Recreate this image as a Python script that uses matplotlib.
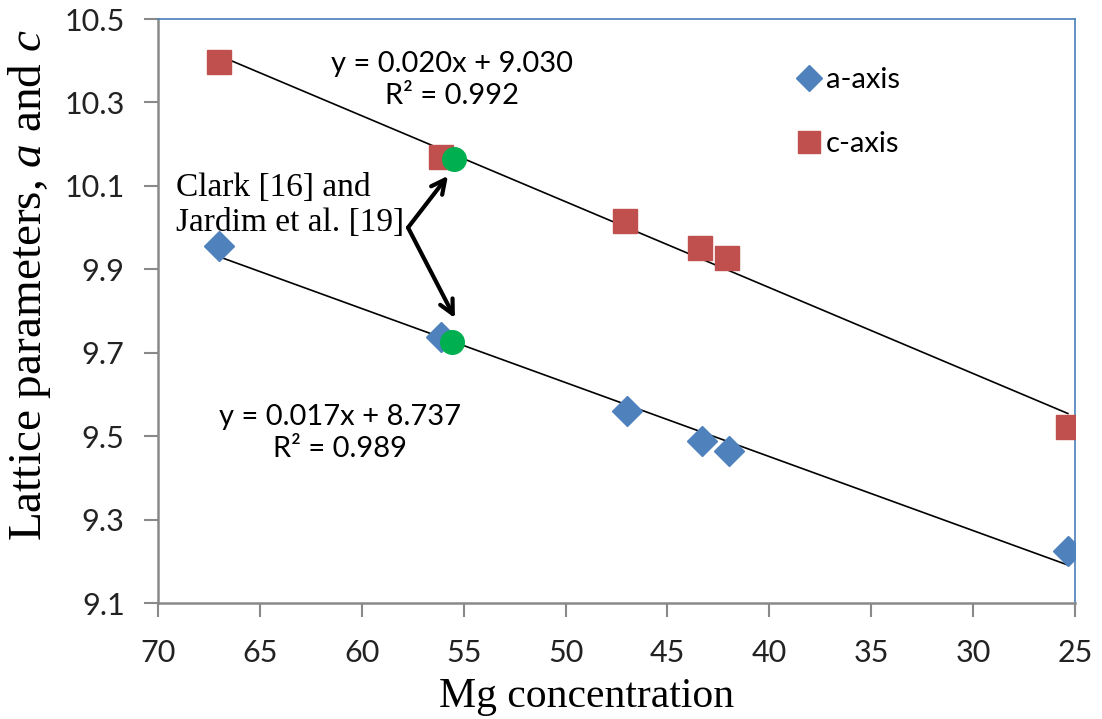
import numpy as np
import matplotlib
matplotlib.use("Agg")
import matplotlib.pyplot as plt

plt.rcParams["mathtext.fontset"] = "custom"
plt.rcParams["mathtext.it"] = "Liberation Serif:italic"
plt.rcParams["mathtext.rm"] = "Liberation Serif"

mg_a = [67.0, 56.1, 47.0, 43.3, 42.0, 25.35]
a_axis = [9.956, 9.737, 9.560, 9.488, 9.464, 9.224]

mg_c = [67.0, 56.1, 47.1, 43.4, 42.1, 25.35]
c_axis = [10.397, 10.169, 10.016, 9.951, 9.927, 9.522]

# Literaturwerte Clark / Jardim
mg_lit = [55.45, 55.55]
lit_vals = [10.164, 9.725]

eq_c = "y = 0.020x + 9.030\nR² = 0.992"
eq_a = "y = 0.017x + 8.737\nR² = 0.989"
lit_text = "Clark [16] and\nJardim et al. [19]"

xticks = [70, 65, 60, 55, 50, 45, 40, 35, 30, 25]
yticks = [9.1, 9.3, 9.5, 9.7, 9.9, 10.1, 10.3, 10.5]

tick_font = "Lato"
serif = "Liberation Serif"
grey = "#898989"
blue_frame = "#4A7EBB"

fig = plt.figure(figsize=(11.02, 7.19), dpi=100)
ax = fig.add_axes([158/1102, 1 - 603/719, (1075-158)/1102, (603-19)/719])

# Trendlinien
for xs, ys in [(mg_a, a_axis), (mg_c, c_axis)]:
    k, d = np.polyfit(xs, ys, 1)
    xx = np.array([max(xs), min(xs)])
    ax.plot(xx, k*xx + d, color="black", lw=1.2, zorder=2)

ax.plot(mg_a, a_axis, linestyle="none", marker="D", markersize=15,
        color="#4F81BD", label="a-axis", zorder=3)
ax.plot(mg_c, c_axis, linestyle="none", marker="s", markersize=17,
        color="#C0504D", label="c-axis", zorder=3)
ax.plot(mg_lit, lit_vals, linestyle="none", marker="o", markersize=17,
        color="#00B050", zorder=4)

ax.set_xlim(70, 25)
ax.set_ylim(9.1, 10.5)
ax.set_xticks(xticks)
ax.set_xticklabels([str(t) for t in xticks])
ax.set_yticks(yticks)
ax.set_yticklabels([f"{t:.1f}" for t in yticks])

for lab in ax.get_xticklabels() + ax.get_yticklabels():
    lab.set_fontfamily(tick_font)
    lab.set_fontsize(22)
    lab.set_color("#222222")

ax.tick_params(axis="x", direction="out", length=10, width=1.5, color=grey, pad=16)
ax.tick_params(axis="y", direction="out", length=10, width=1.5, color=grey, pad=14)

ax.spines["left"].set_color(grey)
ax.spines["bottom"].set_color(grey)
ax.spines["left"].set_linewidth(1.8)
ax.spines["bottom"].set_linewidth(1.8)
ax.spines["top"].set_color(blue_frame)
ax.spines["right"].set_color(blue_frame)
ax.spines["top"].set_linewidth(1.2)
ax.spines["right"].set_linewidth(1.2)

ax.set_xlabel("Mg concentration", fontfamily=serif, fontsize=30)
ax.xaxis.set_label_coords((587-158)/917, -(697-603)/584)
ax.xaxis.label.set_va("center")
ax.set_ylabel("Lattice parameters, $a$ and $c$", fontfamily=serif, fontsize=34)
ax.yaxis.set_label_coords(-(128)/917, (603-285)/584)
ax.yaxis.label.set_va("center")

# Gleichungen
ax.text(55.57, 10.353, eq_c, ha="center", va="center", fontfamily=tick_font,
        fontsize=21, linespacing=1.3)
ax.text(61.07, 9.507, eq_a, ha="center", va="center", fontfamily=tick_font,
        fontsize=21, linespacing=1.3)

ax.text(69.12, 10.054, lit_text, ha="left", va="center", fontfamily=serif,
        fontsize=24, linespacing=1.2)

# Pfeile
start = (57.73, 10.0)
ax.annotate("", xy=(55.77, 10.124), xytext=start,
            arrowprops=dict(arrowstyle="->", lw=3, color="black",
                            mutation_scale=25, shrinkA=0, shrinkB=0))
ax.annotate("", xy=(55.43, 9.783), xytext=start,
            arrowprops=dict(arrowstyle="->", lw=3, color="black",
                            mutation_scale=25, shrinkA=0, shrinkB=0))

leg = ax.legend(loc="upper left", bbox_to_anchor=(0.665, 0.962), frameon=False,
                prop={"family": tick_font, "size": 21}, handletextpad=0.1,
                labelspacing=1.3, handlelength=1.0, markerscale=0.9)

fig.savefig("out.png", dpi=100)
